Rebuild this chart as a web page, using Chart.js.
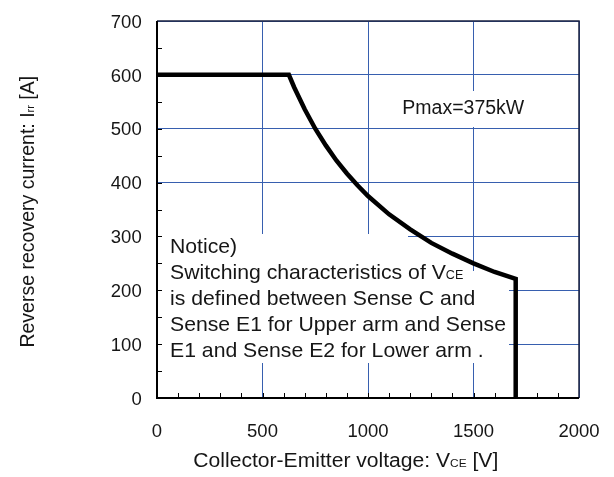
<!DOCTYPE html>
<html>
<head>
<meta charset="utf-8">
<script src="https://cdn.jsdelivr.net/npm/chart.js@4/dist/chart.umd.min.js"></script>
<style>
  html, body { margin: 0; padding: 0; background: #fff; }
  #wrap { width: 614px; height: 477px; }
</style>
</head>
<body>
<div id="wrap"><canvas id="rbsoa" width="614" height="477"></canvas></div>
<script>
// data
const voltage = [0, 625, 650, 700, 750, 800, 850, 900, 950, 1000, 1100, 1200, 1300, 1400, 1500, 1600, 1700, 1700];
const current = [600, 600, 577, 536, 500, 469, 441, 417, 395, 375, 341, 313, 288, 268, 250, 234, 221, 0];
const xTicks = [0, 500, 1000, 1500, 2000];
const yTicks = [0, 100, 200, 300, 400, 500, 600, 700];
const noticeLines = [
    [['Notice)', false]],
    [['Switching characteristics of V', false], ['CE', true]],
    [['is defined between Sense C and', false]],
    [['Sense E1 for Upper arm and Sense', false]],
    [['E1 and Sense E2 for Lower arm .', false]]
];

const FONT = '"Liberation Sans", Arial, sans-serif';
const gridBlue = 'rgb(55,95,175)';

// text made of [string, isSubscript] parts
function runWidth(ctx, parts, size, subSize) {
    let w = 0;
    parts.forEach(p => {
        ctx.font = (p[1] ? subSize : size) + 'px ' + FONT;
        w += ctx.measureText(p[0]).width;
    });
    return w;
}
function drawRun(ctx, parts, x, y, size, subSize, sx) {
    sx = sx || 1;
    ctx.save();
    ctx.translate(x, y);
    ctx.scale(sx, 1);
    ctx.textAlign = 'left';
    ctx.textBaseline = 'alphabetic';
    let cx = 0;
    parts.forEach(p => {
        ctx.font = (p[1] ? subSize : size) + 'px ' + FONT;
        ctx.fillText(p[0], cx, 0);
        cx += ctx.measureText(p[0]).width;
    });
    ctx.restore();
}

const decorPlugin = {
    id: 'decor',
    beforeDatasetsDraw(chart) {
        const ctx = chart.ctx;
        const xs = chart.scales.x, ys = chart.scales.y;
        const a = chart.chartArea;
        ctx.save();
        // white boxes behind the texts
        ctx.fillStyle = '#fff';
        ctx.fillRect(160, 234, 248, 129);
        ctx.fillRect(408, 271, 101, 92);
        ctx.fillRect(398, 91, 132, 36);

        // frame
        ctx.strokeStyle = '#1c2340';
        ctx.lineWidth = 1.5;
        ctx.beginPath();
        ctx.moveTo(a.left, a.top); ctx.lineTo(a.right, a.top); ctx.lineTo(a.right, a.bottom);
        ctx.stroke();
        ctx.strokeStyle = '#000';
        ctx.lineWidth = 2;
        ctx.beginPath();
        ctx.moveTo(a.left, a.top); ctx.lineTo(a.left, a.bottom); ctx.lineTo(a.right, a.bottom);
        ctx.stroke();

        // inner tick marks
        ctx.lineWidth = 1;
        ctx.beginPath();
        for (let v = 100; v < 2000; v += 100) {
            const px = Math.round(xs.getPixelForValue(v)) + 0.5;
            ctx.moveTo(px, a.bottom); ctx.lineTo(px, a.bottom - 5);
        }
        for (let v = 50; v < 700; v += 50) {
            const py = Math.round(ys.getPixelForValue(v)) + 0.5;
            ctx.moveTo(a.left, py); ctx.lineTo(a.left + 5, py);
        }
        ctx.stroke();
        ctx.restore();
    },
    afterDraw(chart) {
        const ctx = chart.ctx;
        const xs = chart.scales.x, ys = chart.scales.y;
        ctx.save();
        ctx.fillStyle = '#161616';
        // tick labels
        ctx.font = '18.5px ' + FONT;
        ctx.textBaseline = 'alphabetic';
        ctx.textAlign = 'right';
        yTicks.forEach(v => ctx.fillText(String(v), 141.7, ys.getPixelForValue(v) + 6.7));
        ctx.textAlign = 'center';
        xTicks.forEach(v => ctx.fillText(String(v), xs.getPixelForValue(v), 436.7));

        // x title, spans about 193..498
        const xt = [['Collector-Emitter voltage: V', false], ['CE', true], [' [V]', false]];
        const xw = runWidth(ctx, xt, 19.5, 11);
        const xsx = 305 / xw;
        drawRun(ctx, xt, 193.3, 466.7, 19.5, 11, xsx);

        // y title
        const yt = [['Reverse recovery current: I', false], ['rr', true], [' [A]', false]];
        const yw = runWidth(ctx, yt, 19.5, 11);
        ctx.save();
        ctx.translate(33.5, 211.7);
        ctx.rotate(-Math.PI / 2);
        drawRun(ctx, yt, -yw / 2, 0, 19.5, 11);
        ctx.restore();

        // annotations
        drawRun(ctx, [['Pmax=375kW', false]], 402.3, 114, 19.5, 11);
        const nsx = 336 / runWidth(ctx, noticeLines[3], 20.3, 12);
        noticeLines.forEach((line, i) => {
            drawRun(ctx, line, 170, 253.3 + 25.85 * i, 20.3, 12, nsx);
        });
        ctx.restore();
    }
};

const points = voltage.map((v, i) => ({ x: v, y: current[i] }));

new Chart(document.getElementById('rbsoa').getContext('2d'), {
    type: 'scatter',
    data: {
        datasets: [{
            data: points,
            showLine: true,
            borderColor: '#000',
            borderWidth: 4.5,
            borderJoinStyle: 'miter',
            borderCapStyle: 'butt',
            pointRadius: 0,
            tension: 0,
            fill: false
        }]
    },
    options: {
        responsive: false,
        animation: false,
        events: [],
        layout: { padding: { left: 100, right: 35, top: 21, bottom: 0 } },
        plugins: { legend: { display: false }, tooltip: { enabled: false } },
        scales: {
            x: {
                type: 'linear', min: 0, max: 2000,
                ticks: { display: false, stepSize: 500 },
                grid: { color: gridBlue, lineWidth: 1, drawTicks: false },
                border: { display: false },
                afterFit: (s) => { s.height = 79; }
            },
            y: {
                type: 'linear', min: 0, max: 700,
                ticks: { display: false, stepSize: 100 },
                grid: { color: gridBlue, lineWidth: 1, drawTicks: false },
                border: { display: false },
                afterFit: (s) => { s.width = 57; }
            }
        }
    },
    plugins: [decorPlugin]
});
</script>
</body>
</html>
